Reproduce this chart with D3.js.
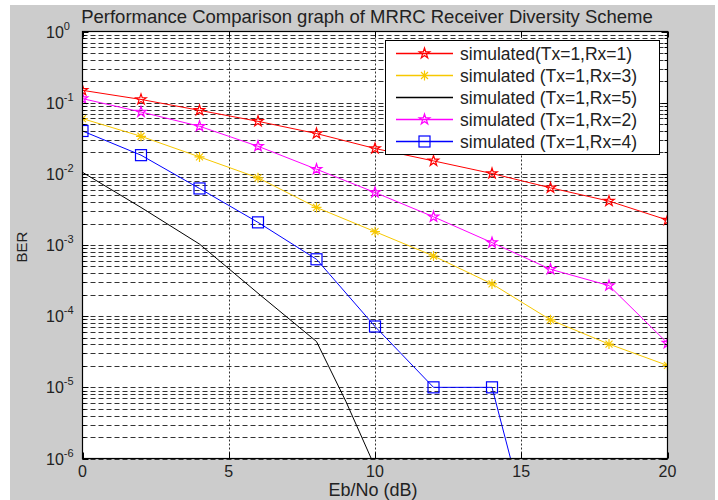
<!DOCTYPE html>
<html lang="en">
<head>
  <meta charset="UTF-8">
  <title>Performance Comparison graph of MRRC Receiver Diversity Scheme</title>
  <script src="https://d3js.org/d3.v7.min.js"></script>
  <style>
    body { margin: 0; background: #fff; }
    text { font-family: "Liberation Sans", Arial, sans-serif; fill: #222; }
  </style>
</head>
<body>
  <svg id="chart" width="718" height="500"></svg>
  <script>
    // Eb/No (dB) values
    const ebno = [0, 2, 4, 6, 8, 10, 12, 14, 16, 18, 20];
    const ebnoRx4 = [0, 2, 4, 6, 8, 10, 12, 14, 16];
    const ebnoRx5 = [0, 2, 4, 6, 8, 9, 10];

    // BER
    const berRx1 = [0.149, 0.111, 0.078, 0.0547, 0.0368, 0.0227, 0.0152, 0.0101, 0.00636, 0.00414, 0.00224];
    const berRx2 = [0.114, 0.074, 0.0466, 0.0244, 0.0116, 0.00547, 0.00249, 0.00108, 0.000456, 0.000269, 4.18e-5];
    const berRx3 = [0.0597, 0.0337, 0.0173, 0.00879, 0.00337, 0.00154, 0.000701, 0.000284, 8.87e-5, 4.05e-5, 2.03e-5];
    const berRx4 = [0.04, 0.0183, 0.00623, 0.00208, 0.00063, 7.16e-5, 1.0e-5, 1.0e-5, 7e-9];
    const berRx5 = [0.0105, 0.00337, 0.00103, 2.1e-4, 4.4e-5, 6.4e-6, 7.6e-7];

    const xTicks = [0, 5, 10, 15, 20];
    const yExps = [0, -1, -2, -3, -4, -5, -6];

    const series = [
      { name: "simulated(Tx=1,Rx=1)", x: ebno, y: berRx1, color: "#ff0000", marker: "star" },
      { name: "simulated (Tx=1,Rx=3)", x: ebno, y: berRx3, color: "#f7c800", marker: "asterisk" },
      { name: "simulated (Tx=1,Rx=5)", x: ebnoRx5, y: berRx5, color: "#000000", marker: "none" },
      { name: "simulated (Tx=1,Rx=2)", x: ebno, y: berRx2, color: "#ff00ff", marker: "star" },
      { name: "simulated (Tx=1,Rx=4)", x: ebnoRx4, y: berRx4, color: "#0000ff", marker: "square" }
    ];

    const svg = d3.select("#chart");
    const pL = 82.5, pR = 667.5, pT = 31.5, pB = 458.5;

    const x = d3.scaleLinear().domain([0, 20]).range([pL, pR]);
    const y = d3.scaleLog().domain([1e-6, 1]).range([pB, pT]);

    // figure background
    svg.append("rect").attr("x", 10).attr("y", 5).attr("width", 705).attr("height", 495)
      .attr("fill", "#cccccc");
    svg.append("rect").attr("x", pL).attr("y", pT)
      .attr("width", pR - pL).attr("height", pB - pT).attr("fill", "#fff");

    // grid lines
    const minorVals = [];
    yExps.slice(1).forEach(e => {
      for (let m = 1; m <= 9; m++) minorVals.push(m * Math.pow(10, e));
    });
    const grid = svg.append("g").attr("stroke", "#333").attr("stroke-width", 1).attr("fill", "none");
    grid.selectAll("line.h").data(minorVals).join("line").attr("class", "h")
      .attr("x1", pL).attr("x2", pR)
      .attr("y1", d => Math.round(y(d)) + 0.5).attr("y2", d => Math.round(y(d)) + 0.5)
      .attr("stroke-dasharray", "5,3");
    grid.selectAll("line.v").data(xTicks.slice(1, -1)).join("line").attr("class", "v")
      .attr("x1", d => Math.round(x(d)) + 0.5).attr("x2", d => Math.round(x(d)) + 0.5)
      .attr("y1", pT).attr("y2", pB)
      .attr("stroke-dasharray", "2,2");

    // series
    svg.append("clipPath").attr("id", "plotclip").append("rect")
      .attr("x", pL).attr("y", pT).attr("width", pR - pL).attr("height", pB - pT);
    const plot = svg.append("g").attr("clip-path", "url(#plotclip)");
    const line = d3.line().x(d => x(d[0])).y(d => y(d[1]));

    function drawMarker(g, type, color, cx, cy) {
      if (type === "star") {
        g.append("path").attr("d", d3.symbol(d3.symbolStar, 34)())
          .attr("transform", `translate(${cx},${cy})`)
          .attr("fill", "none").attr("stroke", color).attr("stroke-width", 1.2);
      } else if (type === "square") {
        g.append("rect").attr("x", cx - 5.5).attr("y", cy - 5.5).attr("width", 11).attr("height", 11)
          .attr("fill", "none").attr("stroke", color).attr("stroke-width", 1.2);
      } else if (type === "asterisk") {
        const r = 5;
        const p = `M${cx - r},${cy}L${cx + r},${cy}M${cx},${cy - r}L${cx},${cy + r}` +
          `M${cx - r * 0.7},${cy - r * 0.7}L${cx + r * 0.7},${cy + r * 0.7}` +
          `M${cx - r * 0.7},${cy + r * 0.7}L${cx + r * 0.7},${cy - r * 0.7}`;
        g.append("path").attr("d", p).attr("fill", "none").attr("stroke", color).attr("stroke-width", 1.2);
      }
    }

    series.forEach(s => {
      const pts = s.x.map((v, i) => [v, s.y[i]]);
      plot.append("path").datum(pts).attr("d", line)
        .attr("fill", "none").attr("stroke", s.color).attr("stroke-width", 1);
      pts.filter(p => p[1] >= 1e-6).forEach(p => drawMarker(plot, s.marker, s.color, x(p[0]), y(p[1])));
    });

    // axes box and ticks
    const ax = svg.append("g").attr("stroke", "#000").attr("fill", "none");
    ax.append("rect").attr("x", pL).attr("y", pT).attr("width", pR - pL).attr("height", pB - pT)
      .attr("stroke-width", 1.2);
    xTicks.forEach(t => {
      const px = Math.round(x(t)) + 0.5;
      ax.append("line").attr("x1", px).attr("x2", px).attr("y1", pB).attr("y2", pB - 6);
      ax.append("line").attr("x1", px).attr("x2", px).attr("y1", pT).attr("y2", pT + 6);
    });
    minorVals.concat([1]).forEach(v => {
      const py = Math.round(y(v)) + 0.5;
      const len = Math.abs(Math.log10(v) - Math.round(Math.log10(v))) < 1e-9 ? 6 : 3;
      ax.append("line").attr("x1", pL).attr("x2", pL + len).attr("y1", py).attr("y2", py);
      ax.append("line").attr("x1", pR).attr("x2", pR - len).attr("y1", py).attr("y2", py);
    });

    // tick labels
    svg.selectAll("text.xt").data(xTicks).join("text").attr("class", "xt")
      .attr("x", d => x(d)).attr("y", 477).attr("text-anchor", "middle")
      .style("font-size", "16px").text(d => d);
    yExps.forEach(e => {
      const t = svg.append("text").attr("x", 46).attr("y", y(Math.pow(10, e)) + 6)
        .style("font-size", "16px");
      t.append("tspan").text("10");
      t.append("tspan").attr("dy", -8).style("font-size", "11px").text(e);
    });

    // titles
    svg.append("text").attr("x", 367).attr("y", 23).attr("text-anchor", "middle")
      .style("font-size", "18.5px").text("Performance Comparison graph of MRRC Receiver Diversity Scheme");
    svg.append("text").attr("x", 373).attr("y", 496).attr("text-anchor", "middle")
      .style("font-size", "18px").text("Eb/No (dB)");
    svg.append("text").attr("transform", "translate(27,247) rotate(-90)").attr("text-anchor", "middle")
      .style("font-size", "15px").text("BER");

    // legend
    const lg = svg.append("g").attr("class", "legend");
    lg.append("rect").attr("x", 385.5).attr("y", 40.5).attr("width", 274).attr("height", 114)
      .attr("fill", "#fff").attr("stroke", "#000");
    const rows = lg.selectAll("g.row").data(series).join("g").attr("class", "row")
      .attr("transform", (d, i) => `translate(0,${53.5 + i * 22})`);
    rows.append("line").attr("x1", 396).attr("x2", 453).attr("y1", 0).attr("y2", 0)
      .style("stroke", d => d.color).style("stroke-width", "1.3px");
    rows.each(function (d) { drawMarker(d3.select(this), d.marker, d.color, 424.5, 0); });
    rows.append("text").attr("x", 460).attr("y", 6).style("font-size", "17.5px").text(d => d.name);
  </script>
</body>
</html>
